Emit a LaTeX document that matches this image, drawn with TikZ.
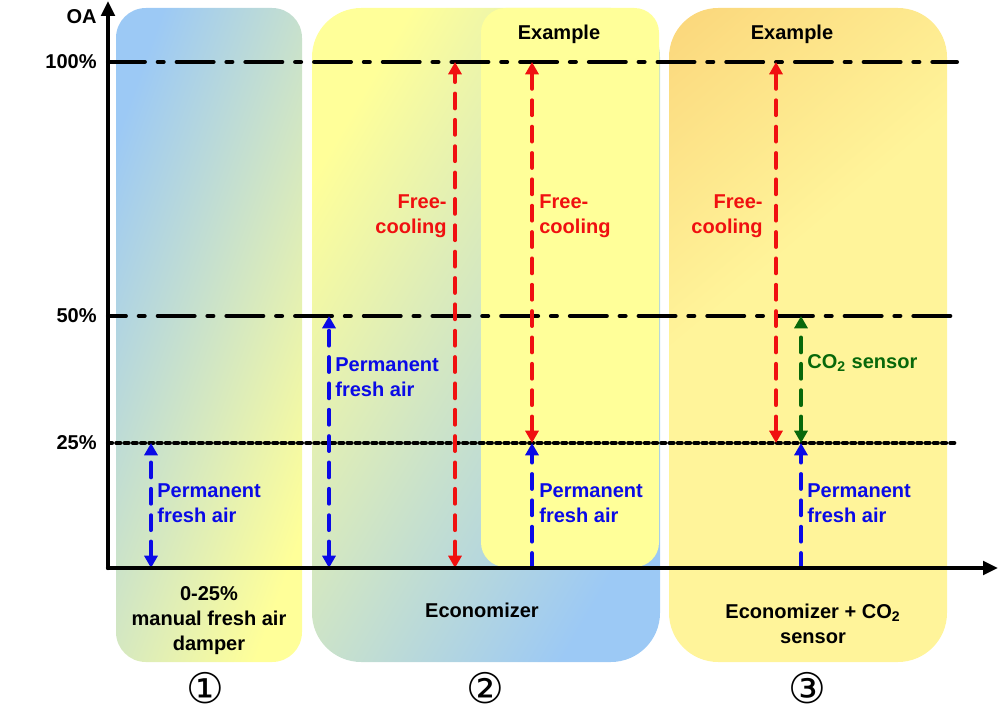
\documentclass[tikz,border=0pt]{standalone}
\usepackage{fontspec, tkz-euclide}
\usetikzlibrary{arrows.meta}
\setmainfont{Liberation Sans}
\newfontfamily\circfont{DejaVu Sans}
\definecolor{skyblue}{HTML}{9CC9F5}
\definecolor{paleyellow}{HTML}{FFFF99}
\definecolor{peach}{HTML}{F8C468}
\definecolor{sunyellow}{HTML}{FFF49A}
\definecolor{fcred}{HTML}{F01010}
\definecolor{pfblue}{HTML}{0A0AE6}
\definecolor{cogreen}{HTML}{08680A}
\pgfdeclareverticalshading{peachfade}{100bp}{color(0bp)=(sunyellow); color(58bp)=(sunyellow);
  color(78bp)=(peach!45!sunyellow); color(100bp)=(peach)}
\tikzset{>={Triangle[width=7.4pt,length=7pt]},
  flow/.style={line width=2.2pt, dash pattern=on 8.5pt off 6.5pt},
  lvl/.style={line width=2.3pt, color=black},
  lbl/.style={font=\fontsize{11.4}{14.2}\selectfont\bfseries, inner sep=0pt},
  circ/.style={font=\circfont\fontsize{24}{26}\selectfont, inner sep=0pt}}

\begin{document}
\begin{tikzpicture}[x=0.02cm, y=-0.02cm]
    \useasboundingbox (0,0) rectangle (1000,716);
    % panels
    \shade[rounded corners=17pt, top color=skyblue, bottom color=paleyellow, shading angle=70] (116,8) rectangle (302,662);
    \shade[rounded corners=28pt, top color=paleyellow, middle color=paleyellow!70!skyblue, bottom color=skyblue, shading angle=60] (312,8) rectangle (660,662);
    \fill[paleyellow, rounded corners=14pt] (481,8) rectangle (659,567);
    \shade[rounded corners=28pt, shading=peachfade, shading angle=40] (669,8) rectangle (947,662);
    \tkzDefPoints{108/568/O, 108/1/Y, 998/568/X, 108/62/A, 957/62/B, 108/316/C, 953/316/D, 108/443/E, 957/443/F}
    \tkzDefPoints{151/568/P, 151/443/Q, 329/568/R, 329/316/S, 532/568/T, 532/443/U, 801/568/V, 801/443/W}
    \tkzDefPoints{455/568/H, 455/62/I, 532/62/J, 776/443/K, 776/62/L, 801/316/M}
    % levels
    \tkzDrawSegments[lvl, dash pattern=on 21pt off 7.3pt on 3.4pt off 7.4pt](A,B)
    \tkzDrawSegments[lvl, dash pattern=on 21pt off 7.3pt on 3.4pt off 7.4pt, dash phase=10.8pt](C,D)
    \tkzDrawSegments[lvl, dash pattern=on 2.3pt off 2.4pt](E,F)
    % flows
    \tkzDrawSegments[flow, pfblue, <->](P,Q R,S)
    \tkzDrawSegments[flow, pfblue, ->](T,U V,W)
    \tkzDrawSegments[flow, fcred, <->](H,I U,J K,L)
    \tkzDrawSegments[flow, cogreen, <->](W,M)
    % axes
    \tkzDrawSegments[lvl, line width=2.4pt, ->, >={Triangle[width=7.6pt,length=8.5pt]}](O,Y O,X)
    \node[lbl, anchor=east] (oa) at (97,17) {OA};
    \node[lbl, anchor=east] (p100) at (97,62) {100\%};
    \node[lbl, anchor=east] (p50) at (97,316) {50\%};
    \node[lbl, anchor=east] (p25) at (97,443) {25\%};
    \node[lbl] (ex1) at (559,34) {Example};
    \node[lbl] (ex2) at (792,34) {Example};
    \node[lbl, fcred, anchor=east, align=right] (fc1) at (447,216) {Free-\\cooling};
    \node[lbl, fcred, anchor=west, align=left] (fc2) at (539,216) {Free-\\cooling};
    \node[lbl, fcred, anchor=east, align=right] (fc3) at (763,216) {Free-\\cooling};
    \node[lbl, pfblue, anchor=west, align=left] (pf1) at (157,503) {Permanent\\fresh air};
    \node[lbl, pfblue, anchor=west, align=left] (pf2) at (335,377) {Permanent\\fresh air};
    \node[lbl, pfblue, anchor=west, align=left] (pf3) at (539,503) {Permanent\\fresh air};
    \node[lbl, pfblue, anchor=west, align=left] (pf4) at (807,503) {Permanent\\fresh air};
    \node[lbl, cogreen, anchor=west] (co) at (807,363) {CO\textsubscript{2} sensor};
    \node[lbl, align=center] (d1) at (209,621) {0-25\%\\manual fresh air\\damper};
    \node[lbl] (d2) at (482,610) {Economizer};
    \node[lbl, align=center] (d3) at (813,624) {Economizer + CO\textsubscript{2}\\sensor};
    \node[circ] (n1) at (205,688) {①};
    \node[circ] (n2) at (485,688) {②};
    \node[circ] (n3) at (807,688) {③};
\end{tikzpicture}
\end{document}
